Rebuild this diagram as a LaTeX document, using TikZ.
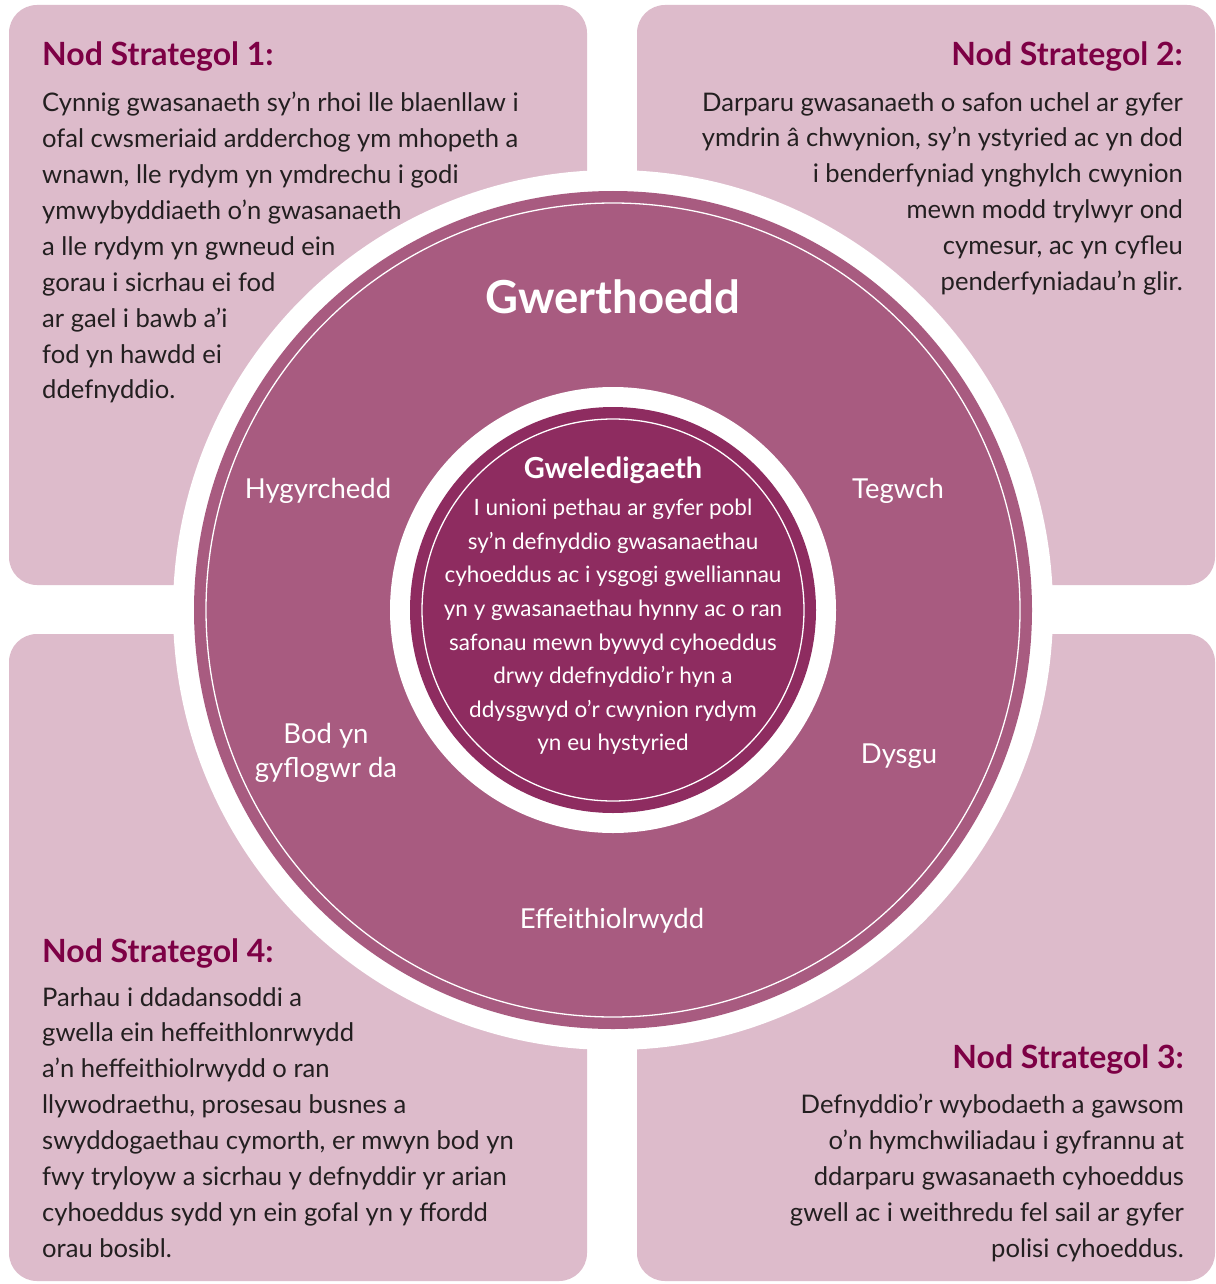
\documentclass[tikz,border=0pt]{standalone}
\usepackage{fontspec}
\setmainfont{Lato}
\definecolor{boxpink}{HTML}{DDBBCB}
\definecolor{ringpurple}{HTML}{A85B80}
\definecolor{coredark}{HTML}{8E2C60}
\definecolor{titlecol}{HTML}{7D0045}
\definecolor{bodycol}{HTML}{231F20}
\begin{document}
\begin{tikzpicture}[x=1pt,y=-1pt,
  aimbox/.style={fill=boxpink, rounded corners=28pt, inner sep=0pt, minimum width=578pt},
  disc/.style={circle, inner sep=0pt, draw=none},
  thinring/.style={circle, inner sep=0pt, draw=white, line width=1.3pt, fill=none},
  aimtitle/.style={inner sep=0pt, text=titlecol, font=\fontsize{32}{36}\selectfont\bfseries},
  aimbody/.style={inner sep=0pt, text=bodycol, font=\fontsize{25.6}{35.9}\selectfont},
  valuelabel/.style={inner sep=0pt, text=white, font=\fontsize{27.5}{34}\selectfont, align=center},
  coretext/.style={inner sep=0pt, text=white, font=\fontsize{22.5}{33.6}\selectfont, align=center}
]
\fill[white] (0,0) rectangle (1215,1284);
\useasboundingbox (0,0) rectangle (1215,1284);

% four aim boxes
\node[aimbox, minimum height=580pt] (box1) at (298,295) {};
\node[aimbox, minimum height=580pt] (box2) at (926,295) {};
\node[aimbox, minimum height=647pt] (box4) at (298,957.5) {};
\node[aimbox, minimum height=647pt] (box3) at (926,957.5) {};

% circles
\node[disc, fill=white, minimum size=880pt] (outerwhite) at (613,610) {};
\node[disc, fill=ringpurple, minimum size=838pt] (values) at (613,610) {};
\node[thinring, minimum size=814pt] (valuesline) at (613,610) {};
\node[disc, fill=white, minimum size=446pt] (innerwhite) at (613,610) {};
\node[disc, fill=coredark, minimum size=406pt] (vision) at (613,610) {};
\node[thinring, minimum size=382pt] (visionline) at (613,610) {};

% titles
\node[aimtitle, anchor=base west] (t1) at (42,66) {Nod Strategol 1:};
\node[aimtitle, anchor=base east] (t2) at (1183,66) {Nod Strategol 2:};
\node[aimtitle, anchor=base west] (t4) at (42,962) {Nod Strategol 4:};
\node[aimtitle, anchor=base east] (t3) at (1184,1068) {Nod Strategol 3:};

% bodies
\node[aimbody, anchor=north west, align=left] (b1) at (42,92) {Cynnig gwasanaeth sy’n rhoi lle blaenllaw i\\
ofal cwsmeriaid ardderchog ym mhopeth a\\
wnawn, lle rydym yn ymdrechu i godi\\
ymwybyddiaeth o’n gwasanaeth\\
a lle rydym yn gwneud ein\\
gorau i sicrhau ei fod\\
ar gael i bawb a’i\\
fod yn hawdd ei\\
ddefnyddio.};
\node[aimbody, anchor=north east, align=right] (b2) at (1183,92) {Darparu gwasanaeth o safon uchel ar gyfer\\
ymdrin â chwynion, sy’n ystyried ac yn dod\\
i benderfyniad ynghylch cwynion\\
mewn modd trylwyr ond\\
cymesur, ac yn cyfleu\\
penderfyniadau’n glir.};
\node[aimbody, anchor=north west, align=left] (b4) at (42,987) {Parhau i ddadansoddi a\\
gwella ein heffeithlonrwydd\\
a’n heffeithiolrwydd o ran\\
llywodraethu, prosesau busnes a\\
swyddogaethau cymorth, er mwyn bod yn\\
fwy tryloyw a sicrhau y defnyddir yr arian\\
cyhoeddus sydd yn ein gofal yn y ffordd\\
orau bosibl.};
\node[aimbody, anchor=north east, align=right] (b3) at (1184,1094) {Defnyddio’r wybodaeth a gawsom\\
o’n hymchwiliadau i gyfrannu at\\
ddarparu gwasanaeth cyhoeddus\\
gwell ac i weithredu fel sail ar gyfer\\
polisi cyhoeddus.};

% values
\node[inner sep=0pt, text=white, font=\fontsize{45.5}{50}\selectfont\bfseries] (gwerth) at (613,297) {Gwerthoedd};
\node[valuelabel] (hyg) at (318,491) {Hygyrchedd};
\node[valuelabel] (teg) at (898,491) {Tegwch};
\node[valuelabel] (bod) at (326,753) {Bod yn\\gyflogwr da};
\node[valuelabel] (dys) at (899,756) {Dysgu};
\node[valuelabel] (eff) at (612,921) {Effeithiolrwydd};

% vision
\node[inner sep=0pt, text=white, font=\fontsize{29}{32}\selectfont\bfseries] (gwel) at (613,470) {Gweledigaeth};
\node[coretext, anchor=north] (vtext) at (613,499) {I unioni pethau ar gyfer pobl\\
sy’n defnyddio gwasanaethau\\
cyhoeddus ac i ysgogi gwelliannau\\
yn y gwasanaethau hynny ac o ran\\
safonau mewn bywyd cyhoeddus\\
drwy ddefnyddio’r hyn a\\
ddysgwyd o’r cwynion rydym\\
yn eu hystyried};
\end{tikzpicture}
\end{document}
